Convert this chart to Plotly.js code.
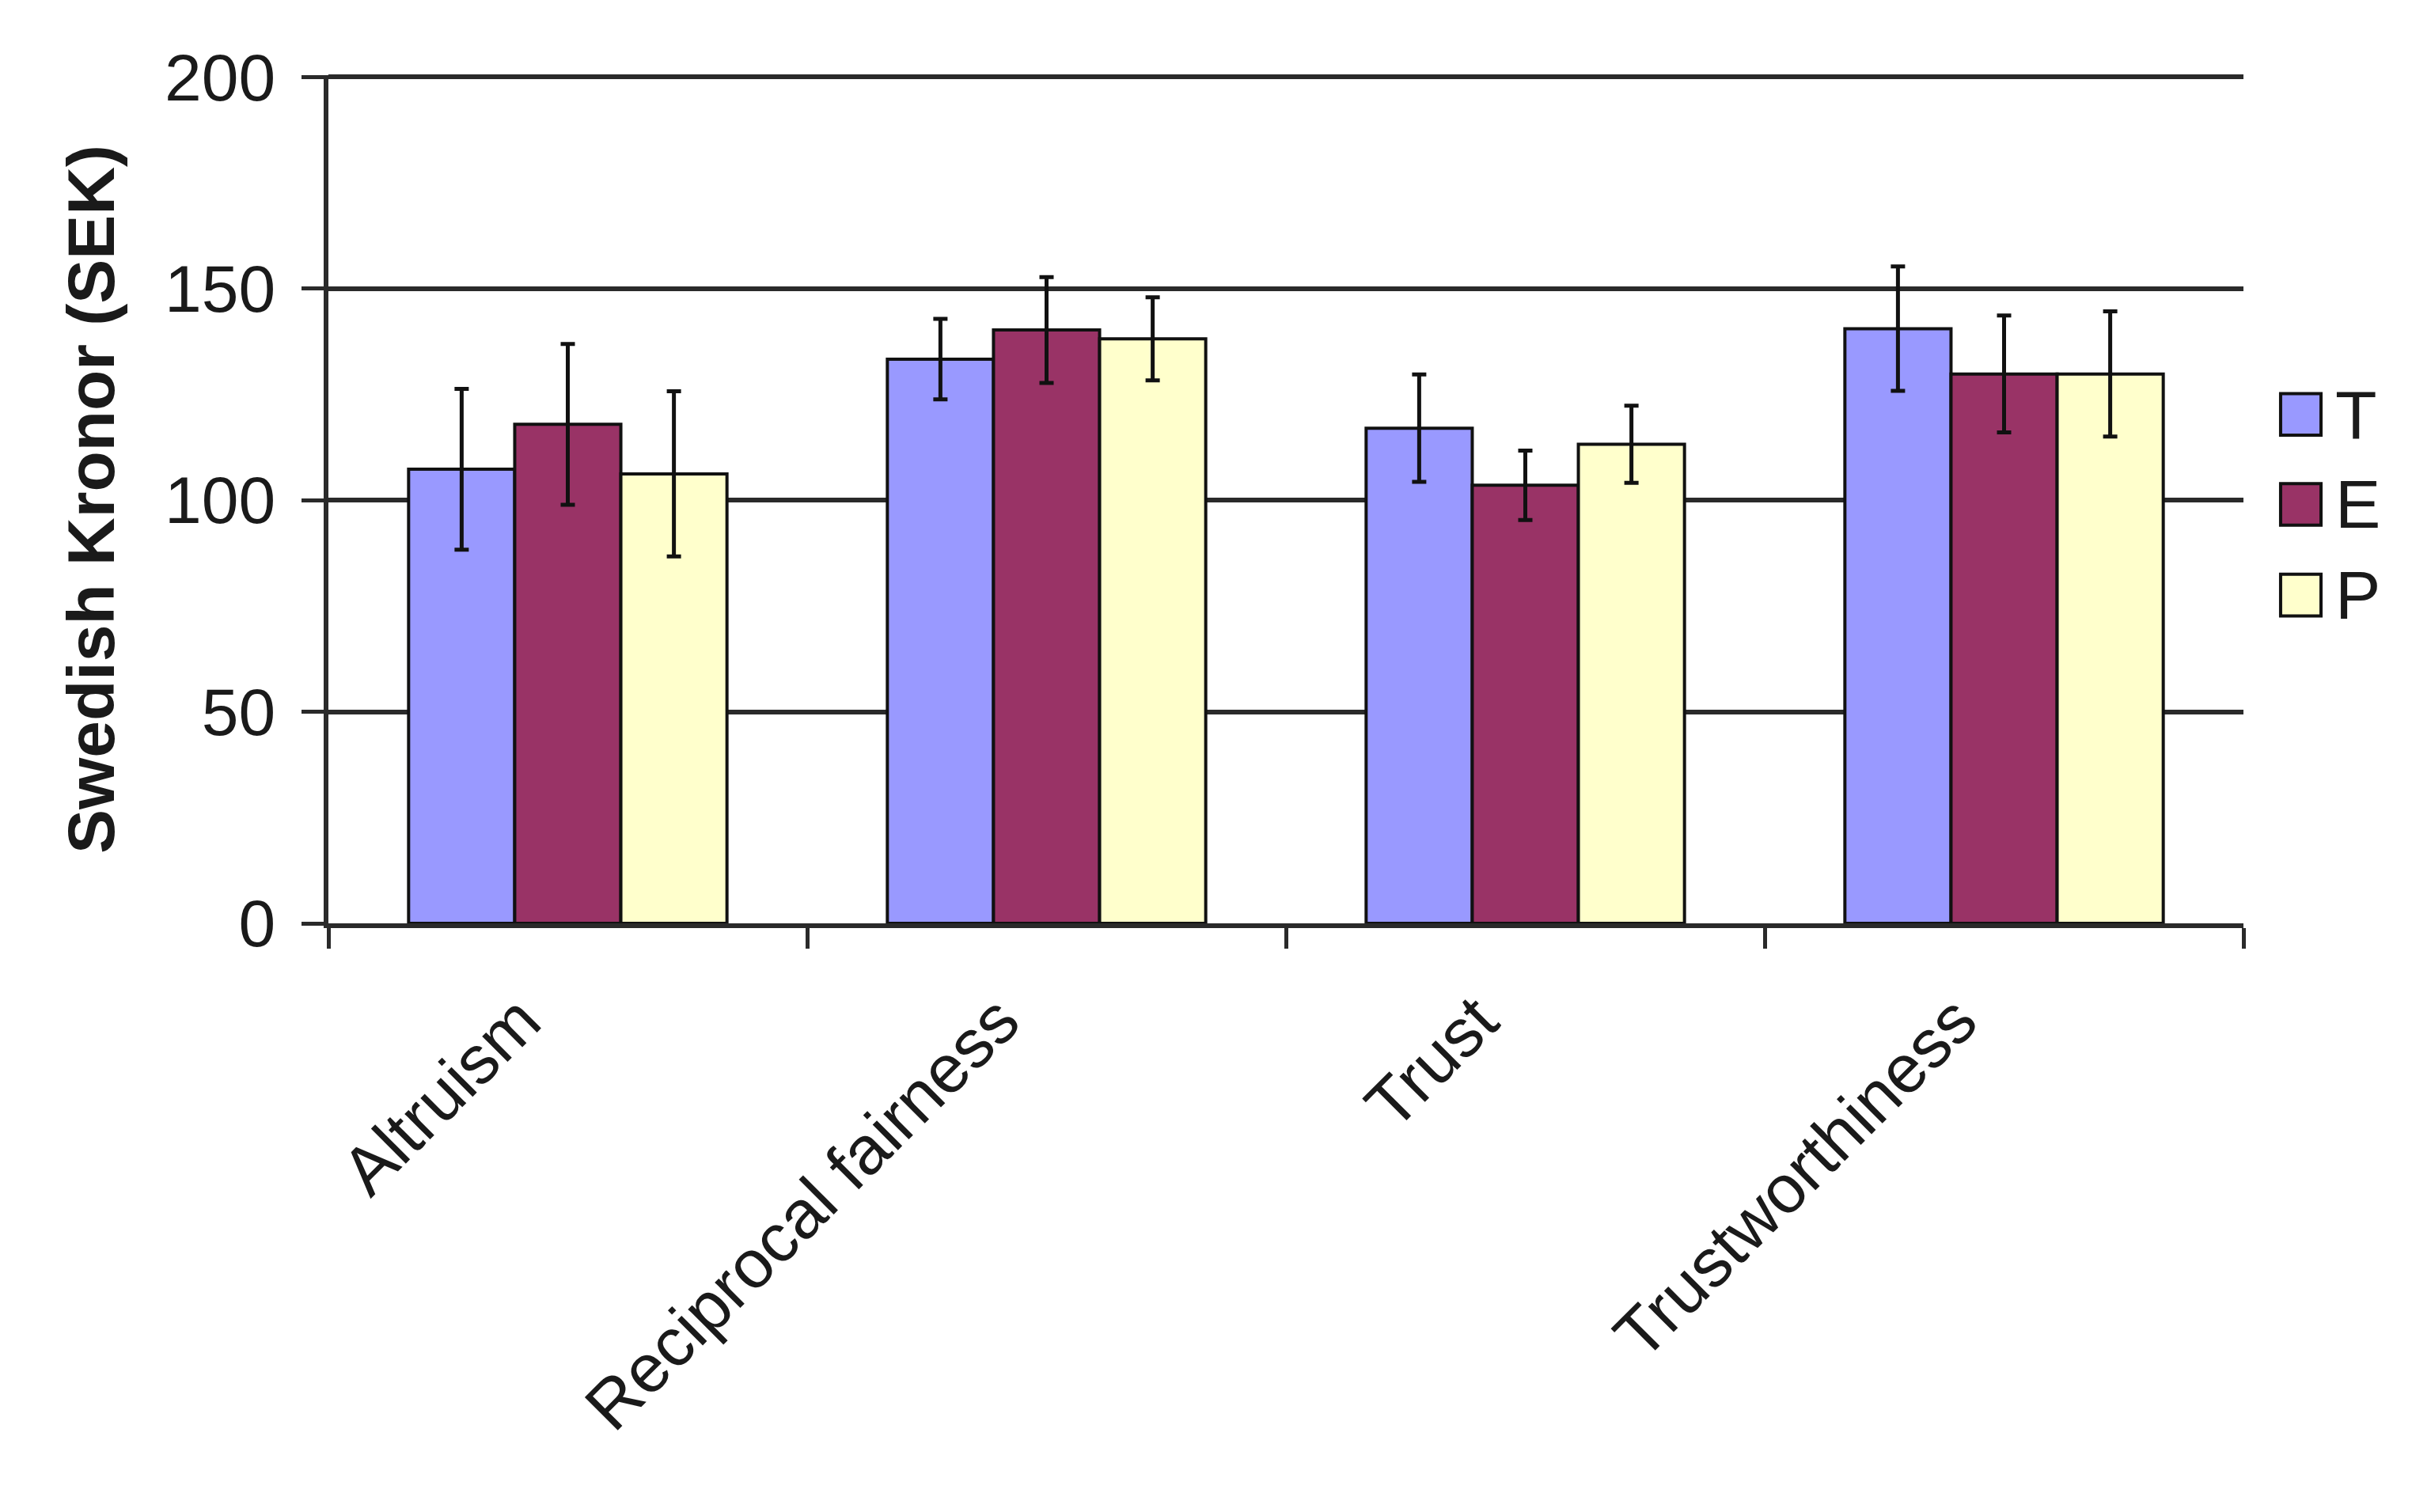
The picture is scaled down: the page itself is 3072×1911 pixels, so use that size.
<!DOCTYPE html>
<html>
<head>
<meta charset="utf-8">
<script src="https://cdn.plot.ly/plotly-3.0.1.min.js"></script>
<style>html,body{margin:0;padding:0;background:#fff;}#chart{width:3072px;height:1911px;}</style>
</head>
<body>
<div id="chart"></div>
<script>
// ---- data ----
const categories = ["Altruism", "Reciprocal fairness", "Trust", "Trustworthiness"];
const seriesNames = ["T", "E", "P"];
const valuesT = [107.3, 133.3, 117.0, 140.5];
const valuesE = [117.9, 140.2, 103.5, 129.8];
const valuesP = [106.2, 138.1, 113.2, 129.8];
const errorsT = [19.0, 9.5, 12.7, 14.7];
const errorsE = [19.0, 12.5, 8.2, 13.8];
const errorsP = [19.5, 9.8, 9.1, 14.8];
const yTickValues = [0, 50, 100, 150, 200];
const yTitle = "Swedish Kronor (SEK)";

// ---- style ----
const colors = ["#9999FF", "#993366", "#FFFFCC"];
const FONT = "Liberation Sans, Arial, Helvetica, sans-serif";
const TXT = "#1a1a1a";
const LINE = "#2a2a2a";

const seriesValues = [valuesT, valuesE, valuesP];
const seriesErrors = [errorsT, errorsE, errorsP];

const traces = seriesNames.map((name, i) => ({
  type: "bar",
  name: name,
  x: categories,
  y: seriesValues[i],
  marker: { color: colors[i], line: { color: "#111111", width: 4 } },
  error_y: { type: "data", array: seriesErrors[i], visible: true, color: "#111111", thickness: 5, width: 9 },
  showlegend: false,
  hoverinfo: "x+y+name"
}));

// custom legend (large swatches like the reference)
const legendY = [0.6, 0.494, 0.387];
const shapes = [];
const annotations = [];
seriesNames.forEach((name, i) => {
  shapes.push({
    type: "rect", xref: "paper", yref: "paper",
    x0: 1.0194, x1: 1.0405, y0: legendY[i] - 0.0245, y1: legendY[i] + 0.0245,
    fillcolor: colors[i], line: { color: "#111111", width: 4 }
  });
  annotations.push({
    xref: "paper", yref: "paper", x: 1.047, y: legendY[i],
    xanchor: "left", yanchor: "middle", showarrow: false,
    text: name, font: { family: FONT, size: 86, color: TXT }
  });
});

const layout = {
  width: 3072,
  height: 1911,
  paper_bgcolor: "#ffffff",
  plot_bgcolor: "#ffffff",
  margin: { l: 415, r: 237, t: 95, b: 744, pad: 0 },
  barmode: "group",
  bargap: 0.335,
  bargroupgap: 0,
  font: { family: FONT, color: TXT },
  xaxis: {
    type: "category",
    tickangle: -45,
    tickson: "boundaries",
    ticks: "outside",
    ticklen: 26,
    tickwidth: 5,
    tickcolor: LINE,
    showline: true,
    linecolor: LINE,
    linewidth: 6,
    showgrid: false,
    tickfont: { family: FONT, size: 86, color: TXT },
    ticklabelstandoff: 32,
    ticklabelshift: -60
  },
  yaxis: {
    range: [0, 200.4],
    tickvals: yTickValues,
    ticks: "outside",
    ticklen: 28,
    tickwidth: 5,
    tickcolor: LINE,
    showline: true,
    linecolor: LINE,
    linewidth: 6,
    showgrid: true,
    gridcolor: LINE,
    gridwidth: 6,
    zeroline: false,
    tickfont: { family: FONT, size: 84, color: TXT },
    ticklabelstandoff: 16,
    automargin: false,
    title: { text: yTitle, font: { family: FONT, size: 84, color: TXT, weight: "bold" }, standoff: 38 }
  },
  shapes: shapes,
  annotations: annotations
};

Plotly.newPlot("chart", traces, layout, { displayModeBar: false, staticPlot: true });
</script>
</body>
</html>
